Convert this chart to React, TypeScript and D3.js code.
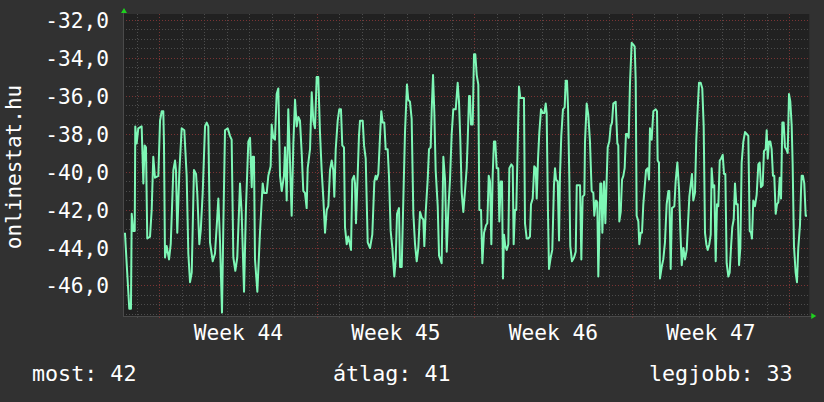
import React from "react";
import * as d3 from "d3";

// Time in hours from the left edge of the plot
const sampleHours = [
  2.1, 3.9, 4.6, 6.7, 8.5, 9.3, 11.0, 12.5, 13.1, 14.6, 16.3, 19.9, 21.7, 23.1, 24.5, 25.9, 28.8, 30.6, 32.3, 34.1,
  37.7, 39.5, 41.3, 43.0, 43.7, 44.8, 46.6, 49.1, 50.9, 53.7, 55.5, 56.5, 57.9, 60.1, 62.6, 65.4, 67.9, 69.7, 71.5, 73.3,
  75.7, 77.9, 79.3, 81.4, 82.9, 85.0, 87.5, 89.3, 91.0, 92.8, 95.7, 98.1, 99.9, 101.7, 103.5, 105.6, 107.0, 108.8, 111.7, 114.1,
  115.9, 117.7, 119.8, 121.9, 124.8, 126.6, 129.1, 131.2, 133.7, 135.5, 137.3, 138.3, 139.7, 140.8, 143.3, 146.1, 149.0, 150.4, 153.3, 155.0,
  157.5, 158.6, 160.3, 162.1, 163.9, 165.7, 167.5, 169.3, 171.7, 172.8, 174.6, 176.3, 178.1, 179.9, 181.7, 183.5, 185.3, 187.0, 188.8, 190.6,
  192.3, 194.1, 195.9, 197.0, 199.5, 201.3, 203.0, 204.8, 206.6, 208.3, 210.1, 211.9, 213.7, 215.5, 217.3, 219.0, 220.8, 222.6, 224.3, 225.4,
  226.9, 229.0, 230.7, 232.5, 233.9, 235.7, 236.8, 238.6, 240.3, 243.2, 244.6, 246.4, 247.5, 248.5, 250.3, 251.7, 252.8, 255.7, 257.1, 258.9,
  261.0, 263.5, 265.9, 268.1, 269.5, 270.6, 272.3, 274.1, 275.5, 277.0, 278.7, 280.2, 282.3, 283.7, 285.5, 287.3, 289.4, 290.9, 292.3, 294.4,
  295.5, 297.3, 299.0, 300.8, 302.9, 304.3, 306.1, 307.9, 309.7, 311.5, 313.3, 315.0, 316.8, 318.6, 320.3, 321.4, 322.9, 325.0, 326.4, 328.2,
  329.3, 330.7, 332.1, 333.5, 335.7, 337.1, 339.9, 341.7, 343.5, 345.3, 347.0, 348.8, 350.6, 352.3, 354.9, 357.0, 358.4, 359.8, 361.3, 363.0,
  364.8, 366.6, 367.7, 369.1, 370.1, 371.2, 373.0, 374.4, 375.8, 377.3, 379.0, 380.1, 381.9, 383.3, 385.1, 387.2, 388.6, 390.1, 391.5, 392.9,
  394.3, 395.7, 397.1, 398.6, 400.3, 401.4, 402.9, 404.3, 405.3, 406.4, 407.8, 409.3, 411.0, 412.1, 414.2, 415.7, 416.7, 418.1, 419.5, 421.3,
  422.4, 423.8, 425.9, 427.7, 428.8, 430.6, 432.3, 434.1, 435.2, 437.0, 438.7, 440.2, 441.3, 442.7, 444.1, 445.9, 447.7, 449.4, 450.9, 451.9,
  453.3, 454.4, 456.2, 457.9, 459.7, 460.8, 461.9, 463.7, 465.1, 466.1, 467.5, 469.3, 471.1, 472.2, 473.6, 474.7, 476.1, 477.1, 478.9, 481.1,
  482.9, 484.0, 485.7, 487.5, 488.9, 490.3, 492.1, 492.8, 494.6, 496.3, 498.1, 499.9, 501.7, 502.7, 504.5, 505.9, 507.0, 508.1, 509.1, 510.2,
  511.3, 513.1, 514.5, 515.9, 517.0, 518.7, 520.2, 521.6, 523.0, 525.5, 527.3, 528.3, 529.4, 530.9, 532.3, 533.7, 535.1, 536.5, 537.9, 539.4,
  540.8, 542.6, 544.3, 545.8, 546.9, 547.9, 549.7, 550.7, 552.2, 553.6, 555.0, 557.9, 559.7, 561.1, 562.1, 563.9, 565.7, 568.2, 569.6, 570.3,
  571.7, 572.8, 574.6, 576.3, 578.1, 579.9, 581.7, 582.7, 584.2, 585.6, 588.1, 589.5, 591.3, 593.1, 594.5, 596.0, 597.7, 599.5, 601.3, 602.3,
  604.1, 605.5, 606.9, 608.3, 610.1, 611.5, 613.0, 614.4, 616.2, 617.9, 619.4, 620.8, 622.2, 623.7, 625.4, 626.9, 627.9, 629.3, 630.7, 632.2,
  633.6, 635.0, 636.5, 637.9, 639.7, 641.1, 642.5, 643.9, 645.7, 647.1, 648.5, 649.9, 651.4, 652.8, 654.2, 655.7, 657.1, 658.5, 659.9, 661.7,
  663.5, 665.3, 667.0, 668.5, 669.9, 670.9, 672.3, 674.1, 675.9, 677.7, 679.1, 680.5, 682.3, 683.7, 685.5, 686.6, 687.7, 689.1, 690.5, 691.9,
  693.3, 694.7, 696.2, 697.6, 699.0, 700.5, 701.9, 703.3, 704.7, 706.1, 707.5, 709.0, 710.4, 711.8, 713.3, 714.3, 715.7, 717.5, 718.9, 720.3,
  722.1, 723.2, 723.9, 725.3, 726.7, 728.2, 729.6,
];

const sampleValues = [
  -43.2, -44.8, -45.4, -47.2, -47.2, -42.2, -43.1, -43.1, -37.6, -38.5, -37.7, -37.6, -40.6, -38.6, -38.7, -43.5, -43.4, -42.0, -39.2, -40.3,
  -40.2, -37.3, -36.8, -36.8, -38.5, -44.5, -43.9, -44.6, -43.8, -39.9, -39.4, -39.9, -43.2, -40.0, -37.7, -37.8, -40.2, -44.3, -45.8, -45.3,
  -39.9, -40.1, -41.2, -43.8, -43.1, -41.1, -37.6, -37.4, -37.6, -43.7, -44.7, -44.3, -42.9, -41.4, -43.7, -47.4, -42.9, -37.8, -37.7, -38.1,
  -38.3, -44.5, -45.2, -44.5, -40.6, -42.2, -46.3, -41.8, -38.4, -38.2, -40.8, -39.2, -39.2, -44.6, -46.3, -43.2, -40.6, -41.1, -41.1, -40.2,
  -39.7, -37.5, -38.2, -38.3, -35.9, -35.6, -40.2, -41.0, -40.2, -38.7, -41.5, -36.7, -39.4, -42.3, -38.5, -36.2, -37.6, -37.1, -37.3, -39.0,
  -41.0, -41.1, -41.9, -39.8, -38.8, -35.8, -37.3, -37.7, -35.0, -35.0, -37.9, -39.9, -41.4, -43.2, -42.0, -41.8, -39.9, -39.4, -39.9, -41.3,
  -38.8, -37.3, -36.7, -36.7, -38.6, -38.7, -42.9, -43.8, -43.4, -44.1, -40.4, -40.2, -40.6, -42.7, -40.2, -38.1, -37.3, -37.3, -38.6, -39.3,
  -43.7, -44.0, -43.3, -40.5, -40.2, -40.4, -40.1, -38.2, -36.8, -37.4, -37.4, -38.8, -38.8, -40.2, -43.1, -44.0, -45.5, -44.6, -42.2, -41.9,
  -45.0, -45.0, -41.5, -37.9, -35.4, -36.2, -36.3, -37.2, -42.2, -43.8, -44.7, -44.0, -42.1, -42.4, -42.5, -43.9, -42.1, -40.4, -38.8, -38.7,
  -36.7, -34.9, -36.9, -39.9, -41.8, -44.4, -44.8, -39.2, -40.4, -44.2, -42.0, -40.4, -38.0, -36.7, -36.7, -35.3, -36.3, -38.3, -41.1, -42.1,
  -41.0, -39.8, -38.3, -36.0, -36.0, -37.5, -37.5, -33.8, -33.8, -34.9, -35.4, -42.0, -42.0, -44.8, -43.2, -42.8, -42.7, -40.2, -40.5, -43.8,
  -40.2, -38.4, -38.4, -39.8, -39.8, -42.6, -40.5, -40.5, -45.6, -43.3, -43.9, -44.1, -43.8, -39.8, -39.6, -39.7, -43.8, -42.0, -42.0, -37.9,
  -35.5, -36.1, -36.1, -36.1, -42.7, -43.5, -43.5, -43.4, -41.7, -41.4, -39.7, -39.8, -41.4, -39.3, -37.9, -36.7, -36.9, -36.9, -36.4, -36.9,
  -42.1, -45.1, -44.5, -44.1, -40.7, -39.8, -40.4, -40.5, -43.6, -40.2, -38.1, -36.7, -36.6, -35.2, -35.2, -36.6, -40.4, -43.9, -44.7, -44.5,
  -44.2, -40.7, -40.7, -40.7, -44.6, -41.3, -41.2, -38.4, -36.4, -37.0, -38.4, -41.0, -41.1, -42.3, -41.5, -41.6, -45.5, -43.3, -40.6, -40.6,
  -43.2, -40.5, -42.7, -40.4, -38.7, -38.4, -37.6, -37.4, -36.4, -36.3, -38.5, -38.6, -42.6, -42.1, -40.4, -40.2, -39.8, -38.0, -38.0, -38.2,
  -35.3, -33.2, -33.3, -33.4, -35.2, -42.3, -42.6, -43.8, -43.2, -43.2, -41.7, -39.9, -39.8, -40.4, -37.7, -38.3, -36.8, -36.7, -36.8, -39.4,
  -39.5, -45.6, -45.0, -44.6, -43.7, -41.7, -41.0, -41.0, -45.1, -41.9, -41.8, -40.5, -39.5, -40.9, -43.1, -44.9, -44.0, -44.6, -44.1, -43.1,
  -41.3, -40.7, -40.1, -41.5, -41.1, -38.3, -36.7, -35.3, -35.3, -35.6, -37.6, -43.2, -43.8, -44.1, -43.8, -43.3, -39.8, -40.8, -40.7, -44.7,
  -41.7, -41.8, -39.4, -39.3, -39.1, -40.1, -40.1, -44.8, -45.5, -45.3, -44.0, -42.9, -42.5, -40.6, -41.7, -41.7, -44.9, -44.0, -39.5, -38.4,
  -37.9, -38.0, -38.1, -43.1, -43.2, -43.5, -41.5, -41.8, -41.2, -39.6, -39.5, -40.8, -40.7, -38.9, -38.8, -37.8, -39.3, -38.4, -38.4, -38.8,
  -40.2, -40.2, -42.2, -41.7, -41.6, -40.3, -41.4, -37.4, -37.4, -38.7, -38.8, -39.0, -35.9, -36.3, -37.6, -39.6, -43.9, -45.3, -45.8, -44.0,
  -42.8, -41.0, -40.2, -40.2, -40.6, -42.3, -42.3,
];

const hourSpan = 732; // width of the graph in hours
const firstDayLine = 15; // hours, midnight lines
const firstWeekLine = 39; // hours, Monday 00:00 of week 44
const weekLabels = ["Week 44", "Week 45", "Week 46", "Week 47"];
const yTickValues = [-46, -44, -42, -40, -38, -36, -34, -32];
const yMin = -47.579;
const yMax = -31.684;
const yTitle = "onlinestat.hu";
const legendLabels = ["most:", "átlag:", "legjobb:"];
const legendValues = ["42", "41", "33"];

const W = 824;
const H = 402;
const L = 123;
const R = 809.25;
const T = 14;
const B = 316;
const FONT = "'DejaVu Sans Mono', monospace";

export default function App() {
  const x = d3.scaleLinear().domain([0, hourSpan]).range([L, R]);
  const y = d3.scaleLinear().domain([yMin, yMax]).range([B, T]);
  const pts = sampleHours.map((h, i) => [h, sampleValues[i]] as [number, number]);
  const line = d3
    .line<[number, number]>()
    .x((d) => x(d[0]))
    .y((d) => y(d[1]));

  const minorY = d3.range(-47.5, -31.6, 0.5).filter((v) => Math.abs(v / 2 - Math.round(v / 2)) > 1e-6);
  const dayLines = d3.range(firstDayLine, hourSpan, 24).filter((h) => (h - firstWeekLine) % 168 !== 0);
  const weekLines = d3.range(firstWeekLine, hourSpan, 168);
  const px = (v: number) => Math.floor(v) + 0.5;

  const legendX = [32, 333, 649];

  return (
    <svg width={W} height={H} style={{ display: "block", position: "absolute", left: 0, top: 0 }}>
      <rect x={0} y={0} width={W} height={H} fill="#313131" />
      <rect x={L} y={T} width={R - L} height={B - T} fill="#212121" />
      {/* minor grid */}
      {minorY.map((v) => (
        <line key={"my" + v} x1={L} x2={R} y1={px(y(v))} y2={px(y(v))} stroke="#4c4c4c" strokeDasharray="1,2" />
      ))}
      {dayLines.map((h) => (
        <line key={"dx" + h} x1={px(x(h))} x2={px(x(h))} y1={T} y2={B + 2} stroke="#4c4c4c" strokeDasharray="1,2" />
      ))}
      {/* major grid */}
      {yTickValues.map((v) => (
        <line key={"My" + v} x1={L} x2={R} y1={px(y(v))} y2={px(y(v))} stroke="#7a3434" strokeDasharray="1,2" />
      ))}
      {weekLines.map((h) => (
        <line key={"wx" + h} x1={px(x(h))} x2={px(x(h))} y1={T} y2={B + 2} stroke="#7a3434" strokeDasharray="1,2" />
      ))}
      {/* axes */}
      <line x1={L + 0.5} x2={L + 0.5} y1={B} y2={T - 3} stroke="#4a4a4a" />
      <line x1={L} x2={R + 3} y1={B + 0.5} y2={B + 0.5} stroke="#4a4a4a" />
      <polygon points={`${L - 2},${T - 1} ${L + 4},${T - 1} ${L + 1},${T - 6}`} fill="#1fd01f" />
      <polygon points={`${R + 2},${B - 3} ${R + 2},${B + 3} ${R + 7},${B}`} fill="#1fd01f" />
      {/* data */}
      <path d={line(pts) || ""} fill="none" stroke="#7ef7b6" strokeWidth={2} strokeLinejoin="round" />
      {/* y labels */}
      {yTickValues.map((v) => (
        <text
          key={"yl" + v}
          x={109}
          y={y(v) + 7.5}
          textAnchor="end"
          fill="#ffffff"
          fontFamily={FONT}
          fontSize={21.2}
        >
          {v.toFixed(1).replace(".", ",")}
        </text>
      ))}
      {/* week labels */}
      {weekLabels.map((lab, i) => (
        <text
          key={lab}
          x={x(firstWeekLine + 84 + 168 * i)}
          y={339.5}
          textAnchor="middle"
          fill="#ffffff"
          fontFamily={FONT}
          fontSize={21.2}
        >
          {lab}
        </text>
      ))}
      {/* y title */}
      <text
        transform={`translate(21,167) rotate(-90)`}
        textAnchor="middle"
        fill="#ffffff"
        fontFamily={FONT}
        fontSize={21}
      >
        {yTitle}
      </text>
      {/* legend */}
      {legendLabels.map((lab, i) => (
        <text key={lab} x={legendX[i]} y={381} fill="#ffffff" fontFamily={FONT} fontSize={21.7}>
          {lab + " " + legendValues[i]}
        </text>
      ))}
    </svg>
  );
}
